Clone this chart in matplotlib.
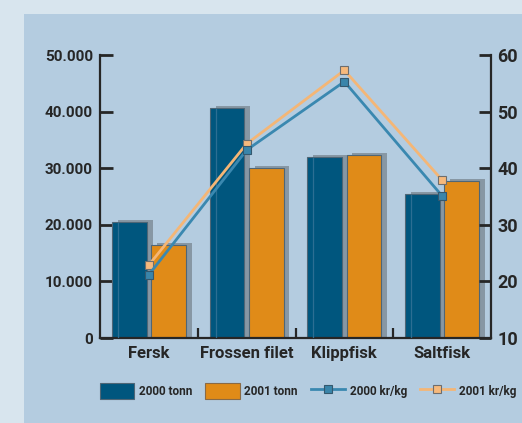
import matplotlib
matplotlib.use("Agg")
import matplotlib.pyplot as plt
from matplotlib.patches import Rectangle, Patch
from matplotlib.lines import Line2D
import numpy as np

categories = ["Fersk", "Frossen filet", "Klippfisk", "Saltfisk"]
tonn_2000 = [20500, 40600, 31900, 25400]
tonn_2001 = [16400, 30000, 32400, 27700]
krkg_2000 = [21.2, 43.2, 55.3, 35.1]
krkg_2001 = [22.9, 44.3, 57.3, 37.9]
left_ticks = [0, 10000, 20000, 30000, 40000, 50000]
left_labels = ["0", "10.000", "20.000", "30.000", "40.000", "50.000"]
right_ticks = [10, 20, 30, 40, 50, 60]
legend_labels = ["2000 tonn", "2001 tonn", "2000 kr/kg", "2001 kr/kg"]

W, H = 522, 423
OUTER = "#d8e5ee"
INNER = "#b4cce0"
BLUE = "#00567e"
ORANGE = "#e08b18"
SHADOW = "#8797a4"
LINE00 = "#3a88b0"
LINE01 = "#f4b676"
DARK = "#262626"
FONT = "Roboto"

fig = plt.figure(figsize=(W / 100, H / 100), dpi=100, facecolor=OUTER)
fig.patches.append(Rectangle((24 / W, 0), 1, (H - 14) / H, transform=fig.transFigure,
                             facecolor=INNER, edgecolor="none", zorder=-10))

ax = fig.add_axes([100 / W, 85 / H, (491 - 100) / W, (338 - 55) / H])
ax.set_facecolor("none")
ax2 = ax.twinx()

x = np.arange(len(categories))
bw = 0.355
off = 0.2
sdx = 0.06
sdy = 350

for xs, vals, col in [(x - off, tonn_2000, BLUE), (x + off, tonn_2001, ORANGE)]:
    ax.bar(xs + sdx, np.array(vals) + sdy, width=bw, color=SHADOW, edgecolor="none", zorder=1)
    ax.bar(xs, vals, width=bw, color=col, edgecolor="#4f6676", linewidth=0.8, zorder=2)
# faint shadow edge visible through the dark bars
ax.vlines(x - off - bw / 2 + sdx, 0, np.array(tonn_2000), color="#2c6e93", lw=0.9, zorder=3)

ax.set_xlim(-0.5, 3.5)
ax.set_ylim(0, 50000)
ax2.set_ylim(10, 60)

ax2.plot(x, krkg_2001, color=LINE01, lw=2, marker="s", markersize=6,
         markerfacecolor="#f6b97c", markeredgecolor="#6e6e6e", markeredgewidth=0.8, zorder=5)
ax2.plot(x, krkg_2000, color=LINE00, lw=2, marker="s", markersize=6,
         markerfacecolor="#3a85aa", markeredgecolor="#34586e", markeredgewidth=0.8, zorder=6)

for a in (ax, ax2):
    a.spines["top"].set_visible(False)
    for s in a.spines.values():
        s.set_color(DARK)
        s.set_linewidth(1.6)
ax.spines["right"].set_visible(False)
ax2.spines["left"].set_visible(False)
ax2.spines["bottom"].set_visible(False)

ax.set_yticks(left_ticks)
ax.set_yticklabels(left_labels, fontsize=11, fontweight="bold", family=FONT, color=DARK)
ax.tick_params(axis="y", direction="in", length=9, width=2, color=DARK, pad=5)

ax2.set_yticks(right_ticks)
ax2.set_yticklabels([str(t) for t in right_ticks], fontsize=13, fontweight="bold", family=FONT, color=DARK)
ax2.tick_params(axis="y", direction="in", length=9, width=2, color=DARK, pad=4.5)

ax.set_xticks(x)
ax.set_xticklabels(categories, fontsize=12, fontweight="bold", family=FONT, color=DARK)
ax.tick_params(axis="x", which="major", length=0, pad=6)
ax.set_xticks(x[:-1] + 0.5, minor=True)
ax.tick_params(axis="x", which="minor", direction="in", length=7, width=1.6, color=DARK)

handles = [
    Patch(facecolor=BLUE, edgecolor="#4f6676", linewidth=0.8),
    Patch(facecolor=ORANGE, edgecolor="#8a6a45", linewidth=0.8),
    Line2D([], [], color=LINE00, lw=2, marker="s", markersize=6,
           markerfacecolor="#3a85aa", markeredgecolor="#34586e", markeredgewidth=0.8),
    Line2D([], [], color=LINE01, lw=2, marker="s", markersize=6,
           markerfacecolor="#f6b97c", markeredgecolor="#6e6e6e", markeredgewidth=0.8),
]
leg = fig.legend(handles, legend_labels, loc="center left", bbox_to_anchor=(100 / W, 32 / H),
                 ncol=4, frameon=False, borderpad=0, borderaxespad=0,
                 handlelength=2.9, handleheight=1.7, handletextpad=0.4, columnspacing=1.1,
                 prop={"family": FONT, "weight": "bold", "size": 8.5})
for t in leg.get_texts():
    t.set_color(DARK)

fig.savefig("out.png", dpi=100, facecolor=OUTER)
